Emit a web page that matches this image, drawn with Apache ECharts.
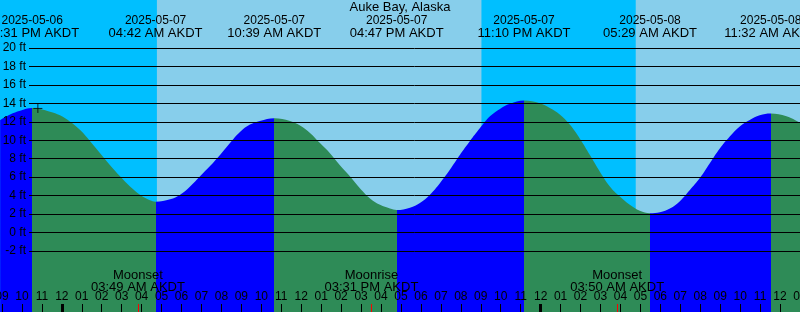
<!DOCTYPE html>
<html><head><meta charset="utf-8">
<script src="https://cdn.jsdelivr.net/npm/echarts@6/dist/echarts.min.js"></script>
<style>html,body{margin:0;padding:0;background:#fff}#c{width:800px;height:312px}</style>
</head><body><div id="c"></div>
<script>
// ---------------- data ----------------
const chartTitle = 'Auke Bay, Alaska';
const tzName = 'AKDT';
const extremeTimes = ['2025-05-06 22:31','2025-05-07 04:42','2025-05-07 10:39','2025-05-07 16:47','2025-05-07 23:10','2025-05-08 05:29','2025-05-08 11:32'];
const extremeHeights = [13.5, 3.35, 12.4, 2.45, 14.3, 2.1, 12.9];
// hours after 2025-05-07 00:00 AKDT, tide height in ft
const readingHours = [-3.09,-2.59,-2.09,-0.59,-0.09,0.42,0.92,1.42,1.92,2.42,2.92,3.42,3.92,4.42,5.43,5.93,6.43,6.93,7.43,7.93,8.43,8.93,9.43,9.93,11.44,11.94,12.44,12.94,13.44,13.94,14.44,14.94,15.45,15.95,16.45,17.45,17.95,18.45,18.95,19.45,19.95,20.45,20.95,21.46,21.96,22.46,23.96,24.46,24.96,25.46,25.96,26.47,26.97,27.47,27.97,28.47,28.97,29.98,30.48,30.98,31.48,31.98,32.48,32.98,33.48,33.98,34.48,34.98,36.32,37.0];
const readingHeights = [12.2,12.8,13.2,13.1,12.7,12.0,11.1,9.9,8.6,7.3,6.1,5.0,4.1,3.5,3.6,4.1,5.0,6.1,7.2,8.4,9.7,10.9,11.7,12.1,12.1,11.6,10.8,9.7,8.6,7.3,6.1,4.8,3.7,3.0,2.6,2.7,3.2,4.1,5.35,6.8,8.4,9.9,11.3,12.6,13.4,13.95,14.0,13.5,12.8,11.7,10.2,8.4,6.6,5.0,3.9,3.0,2.35,2.2,2.6,3.4,4.6,5.9,7.5,9.1,10.4,11.5,12.2,12.7,12.6,11.9];
const sunriseTimes = ['2025-05-07 04:46','2025-05-08 04:46'];
const sunsetTimes = ['2025-05-07 21:02'];
const moonTimes = ['2025-05-07 03:49','2025-05-07 15:31','2025-05-08 03:50'];
const moonEvents = ['Moonset','Moonrise','Moonset'];
const markTimes = ['2025-05-06 22:48'];
const markHeights = [13.45];
const heightTicks = [-2,0,2,4,6,8,10,12,14,16,18,20];
const axisStartHour = -4, axisEndHour = 37;

// ---------------- helpers ----------------
const FONT = 'Liberation Sans, Arial, sans-serif';
const RISING = '#0000FF', FALLING = '#2E8B57';
function toHours(s){
  const [d,t]=s.split(' ');const [Y,M,D]=d.split('-').map(Number);const [h,m]=t.split(':').map(Number);
  return (Date.UTC(Y,M-1,D,h,m)-Date.UTC(2025,4,7,0,0))/3.6e6;
}
function clock(s){
  const t=s.split(' ')[1];let [h,m]=t.split(':').map(Number);
  const ap=h<12?'AM':'PM';let h12=h%12;if(h12===0)h12=12;
  return String(h12).padStart(2,'0')+':'+String(m).padStart(2,'0')+' '+ap+' '+tzName;
}
const extremeHours = extremeTimes.map(toHours);
const moonHours = moonTimes.map(toHours);
const midnightHours = [0,24];
function nearestIdx(arr,v){let b=0;for(let i=1;i<arr.length;i++)if(Math.abs(arr[i]-v)<Math.abs(arr[b]-v))b=i;return b;}

// one continuous curve: readings + extremes
const curve = readingHours.map((h,i)=>[h,readingHeights[i]])
  .concat(extremeHours.map((h,i)=>[h,extremeHeights[i]]))
  .sort((a,b)=>a[0]-b[0]);
// colour pieces: rising (low->high) blue, falling (high->low) green
const pieces = [];
for(let i=0;i<=extremeHours.length;i++){
  const p = {};
  if(i>0) p.gte = extremeHours[i-1];
  if(i<extremeHours.length) p.lt = extremeHours[i];
  const rising = i<extremeHours.length ? (i===0 ? true : extremeHeights[i]>extremeHeights[i-1]) : false;
  p.color = rising ? RISING : FALLING;
  pieces.push(p);
}

// night ranges
const sunrises = sunriseTimes.map(toHours), sunsets = sunsetTimes.map(toHours);
const nightAreas = [[{xAxis:axisStartHour},{xAxis:sunrises[0]}],[{xAxis:sunsets[0]},{xAxis:sunrises[1]}]];

// vertical mapping: grid1 spans top 48 -> bottom 251 for -2..20 ft
const gTop=48, gBot=251, H=312;
const pxPerFt=(gBot-gTop)/22;
const yMin=-2-(H-gBot)/pxPerFt, yMax=20+gTop/pxPerFt;

const chart = echarts.init(document.getElementById('c'));
const txt = {color:'#000',fontSize:12,fontFamily:FONT};
const rich = {d:{fontSize:12,fontFamily:FONT,color:'#000',lineHeight:12},t:{fontSize:13,fontFamily:FONT,color:'#000',lineHeight:12}};
const series = [];
series.push({type:'line',xAxisIndex:0,yAxisIndex:0,data:[[axisStartHour,0],[axisEndHour,0]],symbol:'none',
  lineStyle:{opacity:0},silent:true,z:1,
  markArea:{silent:true,itemStyle:{color:'#00BFFF',opacity:1},data:nightAreas}});
series.push({type:'line',xAxisIndex:0,yAxisIndex:0,data:curve,smooth:0.4,symbol:'none',
  lineStyle:{width:0,opacity:0},areaStyle:{opacity:1,origin:'start'},silent:true,z:2});
series.push({type:'scatter',xAxisIndex:0,yAxisIndex:0,data:markTimes.map((t,i)=>[toHours(t),markHeights[i]]),
  symbol:'path://M0 5 L10 5 M5 0 L5 10',symbolSize:9,itemStyle:{color:'none',borderColor:'#000',borderWidth:1},z:20,silent:true});

const noZero = {show:false,onZero:false};
chart.setOption({
  animation:false,
  backgroundColor:'#fff',
  visualMap:{type:'piecewise',show:false,dimension:0,seriesIndex:1,pieces},
  title:{text:chartTitle,left:'center',top:1,padding:0,textStyle:Object.assign({},txt,{fontSize:13,fontWeight:'normal'})},
  grid:[
    {left:-18,right:0,top:0,bottom:0,show:true,backgroundColor:'#87CEEB',borderWidth:0,containLabel:false,outerBoundsMode:'none'},
    {left:29,right:0,top:gTop,bottom:H-gBot,show:false,containLabel:false,outerBoundsMode:'none'}
  ],
  xAxis:[
    {type:'value',gridIndex:0,position:'bottom',offset:0,min:axisStartHour,max:axisEndHour,interval:1,z:10,
      axisLine:noZero,splitLine:{show:false},
      axisTick:{show:true,inside:true,length:8,lineStyle:{color:'#000',width:1}},
      axisLabel:Object.assign({inside:true,margin:9,formatter:v=>{let h=((v%24)+24)%24;let h12=h%12;if(h12===0)h12=12;return String(h12).padStart(2,'0');}},txt)},
    {type:'value',gridIndex:0,position:'top',offset:0,min:axisStartHour,max:axisEndHour,z:10,
      axisLine:noZero,splitLine:{show:false},axisTick:{show:false},
      axisLabel:{inside:true,margin:15,customValues:extremeHours,rich,
        formatter:v=>{const i=nearestIdx(extremeHours,v);return '{d|'+extremeTimes[i].split(' ')[0]+'}\n{t|'+clock(extremeTimes[i])+'}';}}},
    {type:'value',gridIndex:0,position:'bottom',offset:0,min:axisStartHour,max:axisEndHour,z:11,
      axisLine:noZero,splitLine:{show:false},
      axisTick:{show:true,inside:true,length:8,customValues:midnightHours,lineStyle:{color:'#000',width:3}},
      axisLabel:{show:false}},
    {type:'value',gridIndex:0,position:'bottom',offset:0,min:axisStartHour,max:axisEndHour,z:12,
      axisLine:noZero,splitLine:{show:false},
      axisTick:{show:true,inside:true,length:8,customValues:moonHours,lineStyle:{color:'#FF0000',width:1}},
      axisLabel:{inside:true,margin:19,customValues:moonHours,rich:{t:rich.t},
        formatter:v=>{const i=nearestIdx(moonHours,v);return '{t|'+moonEvents[i]+'}\n{t|'+clock(moonTimes[i])+'}';}}},
    {type:'value',gridIndex:1,show:false,min:0,max:1}
  ],
  yAxis:[
    {type:'value',gridIndex:0,show:false,min:yMin,max:yMax},
    {type:'value',gridIndex:1,min:heightTicks[0],max:heightTicks[heightTicks.length-1],interval:heightTicks[1]-heightTicks[0],z:10,
      axisLine:{show:false},axisTick:{show:false},
      splitLine:{show:true,lineStyle:{color:'#000',width:1}},
      axisLabel:Object.assign({margin:3,formatter:'{value} ft'},txt)}
  ],
  series
});
</script></body></html>
